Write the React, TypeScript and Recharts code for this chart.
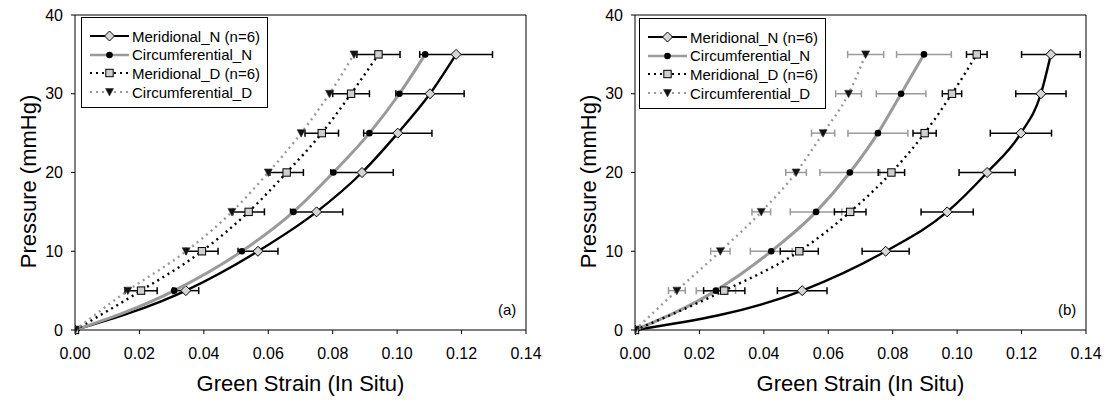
import React from "react";
import {
  ScatterChart,
  Scatter,
  XAxis,
  YAxis,
  ErrorBar,
  ReferenceLine,
} from "recharts";

// pressure levels (mmHg), shared by every series
const PRESSURE = [0, 5, 10, 15, 20, 25, 30, 35];

// panel (a) - strain values
const A_MER_N = [0, 0.0344, 0.0568, 0.075, 0.0891, 0.1002, 0.1102, 0.1183];
const A_MER_N_ERR = [0, 0.004, 0.0062, 0.0081, 0.0097, 0.0106, 0.0106, 0.0113];
const A_CIR_N = [0, 0.0308, 0.0518, 0.0678, 0.0802, 0.0914, 0.1007, 0.1087];
const A_MER_D = [0, 0.0205, 0.0394, 0.0539, 0.0657, 0.0766, 0.0857, 0.0942];
const A_MER_D_ERR = [0, 0.005, 0.005, 0.0049, 0.0052, 0.0052, 0.0057, 0.0067];
const A_CIR_D = [0, 0.0164, 0.0345, 0.0487, 0.06, 0.0702, 0.079, 0.0866];

// panel (b)
const B_MER_N = [0, 0.0519, 0.0778, 0.0969, 0.1093, 0.1198, 0.126, 0.1291];
const B_MER_N_ERR = [0, 0.0077, 0.0073, 0.0081, 0.0087, 0.0095, 0.0078, 0.0091];
const B_CIR_N = [0, 0.0251, 0.0423, 0.0562, 0.0667, 0.0754, 0.0826, 0.0897];
const B_CIR_N_ERR = [0, 0.0061, 0.0065, 0.008, 0.0093, 0.0093, 0.0077, 0.0085];
const B_MER_D = [0, 0.0277, 0.051, 0.0668, 0.0796, 0.0899, 0.0984, 0.1061];
const B_MER_D_ERR = [0, 0.0064, 0.0059, 0.0049, 0.0041, 0.0036, 0.003, 0.0032];
const B_CIR_D = [0, 0.013, 0.0265, 0.0392, 0.05, 0.0584, 0.0663, 0.0716];
const B_CIR_D_ERR = [0, 0.0026, 0.003, 0.0029, 0.0032, 0.0036, 0.004, 0.0056];

const X_TICKS = [0, 0.02, 0.04, 0.06, 0.08, 0.1, 0.12, 0.14];
const Y_TICKS = [0, 10, 20, 30, 40];

const LABELS = [
  "Meridional_N (n=6)",
  "Circumferential_N",
  "Meridional_D (n=6)",
  "Circumferential_D",
];

const FONT = "'Liberation Sans', Arial, sans-serif";
const GRAY = "#9a9a9a";

const toRows = (xs: number[], errs?: number[]) =>
  xs.map((x, i) => ({ x, y: PRESSURE[i], err: errs ? errs[i] : 0 }));

// marker shapes
const Diamond = ({ cx, cy }: any) => (
  <path
    d={`M${cx},${cy - 5} L${cx + 5},${cy} L${cx},${cy + 5} L${cx - 5},${cy} Z`}
    fill="#d6d6d6"
    stroke="#000"
    strokeWidth={1}
  />
);
const Dot = ({ cx, cy }: any) => <circle cx={cx} cy={cy} r={3.3} fill="#000" />;
const Square = ({ cx, cy }: any) => (
  <rect x={cx - 3.7} y={cy - 3.7} width={7.4} height={7.4} fill="#cfcfcf" stroke="#000" strokeWidth={1} />
);
const Tri = ({ cx, cy }: any) => (
  <path d={`M${cx - 4},${cy - 3.5} L${cx + 4},${cy - 3.5} L${cx},${cy + 4} Z`} fill="#111" stroke="#333" strokeWidth={0.6} />
);

const SHAPES = [Diamond, Dot, Square, Tri];
const LINE_STYLES = [
  { stroke: "#000", strokeWidth: 2.4 },
  { stroke: GRAY, strokeWidth: 3 },
  { stroke: "#000", strokeWidth: 2.4, strokeDasharray: "2 4" },
  { stroke: GRAY, strokeWidth: 2.4, strokeDasharray: "2 4" },
];
const ERR_COLORS = ["#000", GRAY, "#000", GRAY];

const Legend = ({ left, top }: { left: number; top: number }) => (
  <div
    style={{
      position: "absolute",
      left,
      top,
      width: 187,
      height: 91,
      border: "1px solid #000",
      background: "#fff",
      boxSizing: "border-box",
      fontFamily: FONT,
      fontSize: 15,
      paddingTop: 9,
    }}
  >
    {LABELS.map((lab, i) => {
      const Shape = SHAPES[i];
      const ls = LINE_STYLES[i];
      return (
        <div key={lab} style={{ display: "flex", alignItems: "center", height: 18.6 }}>
          <svg width={50} height={14} style={{ marginLeft: 7 }}>
            <line x1={1} y1={7} x2={40} y2={7} {...ls} strokeWidth={ls.strokeWidth - 0.4} />
            <Shape cx={20.5} cy={7} />
          </svg>
          <span style={{ marginLeft: -7 }}>{lab}</span>
        </div>
      );
    })}
  </div>
);

type PanelProps = {
  left: number;
  width: number;
  tag: string;
  series: { rows: any[]; errors: boolean }[];
};

const Panel = ({ left, width, tag, series }: PanelProps) => (
  <div style={{ position: "absolute", left, top: 0 }}>
    <ScatterChart
      width={width}
      height={400}
      margin={{ top: 15, right: width - 75 - 451, bottom: 0, left: 15 }}
      style={{ fontFamily: FONT }}
    >
      <XAxis
        type="number"
        dataKey="x"
        domain={[0, 0.14]}
        ticks={X_TICKS}
        tickFormatter={(v: number) => v.toFixed(2)}
        height={70}
        tickSize={4}
        tickMargin={14}
        stroke="#000"
        tick={{ fill: "#000", fontSize: 16 }}
        allowDataOverflow
        label={{ value: "Green Strain (In Situ)", position: "center", dy: 18, fill: "#000", fontSize: 22 }}
      />
      <YAxis
        type="number"
        dataKey="y"
        domain={[0, 40]}
        ticks={Y_TICKS}
        width={60}
        tickSize={4}
        tickMargin={8}
        stroke="#000"
        tick={{ fill: "#000", fontSize: 16 }}
        label={{ value: "Pressure (mmHg)", angle: -90, position: "center", dx: -17, dy: 9, fill: "#000", fontSize: 22 }}
      />
      <ReferenceLine y={40} stroke="#000" strokeWidth={1} ifOverflow="visible" />
      <ReferenceLine x={0.14} stroke="#000" strokeWidth={1} ifOverflow="visible" />
      {series.map((s, i) => (
        <Scatter
          key={LABELS[i]}
          name={LABELS[i]}
          data={s.rows}
          line={LINE_STYLES[i]}
          lineJointType="monotoneX"
          shape={SHAPES[i]}
          isAnimationActive={false}
        >
          {s.errors && (
            <ErrorBar
              dataKey="err"
              direction="x"
              width={3.5}
              stroke={ERR_COLORS[i]}
              strokeWidth={1.5}
              isAnimationActive={false}
            />
          )}
        </Scatter>
      ))}
    </ScatterChart>
    <div
      style={{
        position: "absolute",
        left: width - (width - 75 - 451) - 28,
        top: 301,
        fontFamily: FONT,
        fontSize: 15,
      }}
    >
      {tag}
    </div>
  </div>
);

export default function App() {
  const seriesA = [
    { rows: toRows(A_MER_N, A_MER_N_ERR), errors: true },
    { rows: toRows(A_CIR_N), errors: false },
    { rows: toRows(A_MER_D, A_MER_D_ERR), errors: true },
    { rows: toRows(A_CIR_D), errors: false },
  ];
  const seriesB = [
    { rows: toRows(B_MER_N, B_MER_N_ERR), errors: true },
    { rows: toRows(B_CIR_N, B_CIR_N_ERR), errors: true },
    { rows: toRows(B_MER_D, B_MER_D_ERR), errors: true },
    { rows: toRows(B_CIR_D, B_CIR_D_ERR), errors: true },
  ];
  return (
    <div style={{ position: "fixed", left: 0, top: 0, width: 1106, height: 400, background: "#fff" }}>
      <Panel left={0} width={553} tag="(a)" series={seriesA} />
      <Panel left={560} width={546} tag="(b)" series={seriesB} />
      <Legend left={81} top={17} />
      <Legend left={639} top={18} />
    </div>
  );
}
